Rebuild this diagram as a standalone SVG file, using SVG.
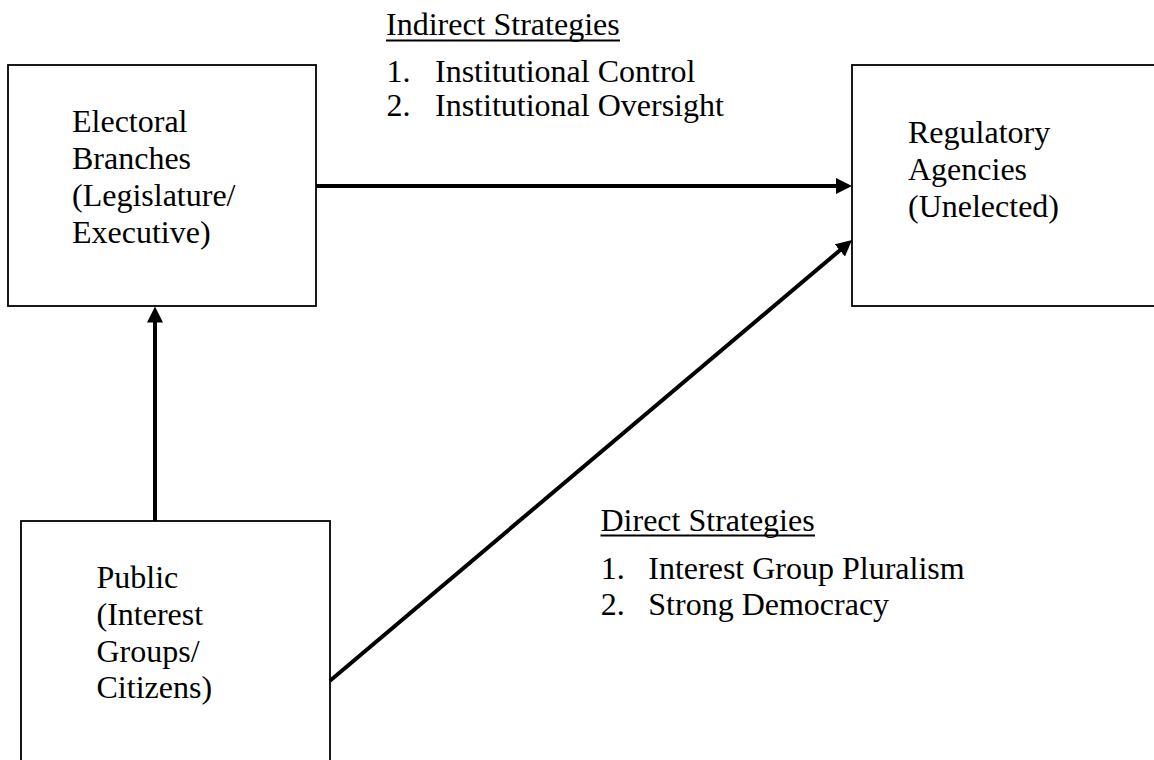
<svg xmlns="http://www.w3.org/2000/svg" width="1154" height="760" viewBox="0 0 1154 760">
<style>
.box{fill:#fff;stroke:#000;stroke-width:1.8}
.t{font-family:"Liberation Serif","Times New Roman",serif;font-size:32px;fill:#000}
.conn{stroke:#000;stroke-width:4;fill:none}
.ul{stroke:#000;stroke-width:1.8}
</style>
<defs>
<marker id="ah" viewBox="0 0 16 16" refX="6" refY="8" markerWidth="16" markerHeight="16" markerUnits="userSpaceOnUse" orient="auto">
<path d="M0,0 L16,8 L0,16 z" fill="#000"/>
</marker>
</defs>
<rect width="1154" height="760" fill="#fff"/>
<g id="electoral">
<rect class="box" x="8" y="65" width="308" height="241"/>
<text class="t" x="72" y="132">Electoral</text>
<text class="t" x="72" y="169">Branches</text>
<text class="t" x="72" y="206">(Legislature/</text>
<text class="t" x="72" y="243">Executive)</text>
</g>
<g id="regulatory">
<rect class="box" x="852" y="65" width="320" height="241"/>
<text class="t" x="908" y="143">Regulatory</text>
<text class="t" x="908" y="180">Agencies</text>
<text class="t" x="908" y="217">(Unelected)</text>
</g>
<g id="public">
<rect class="box" x="21" y="521" width="309" height="260"/>
<text class="t" x="96.5" y="588">Public</text>
<text class="t" x="96.5" y="625">(Interest</text>
<text class="t" x="96.5" y="661.5">Groups/</text>
<text class="t" x="96.5" y="698">Citizens)</text>
</g>
<g id="connectors">
<line class="conn" x1="316" y1="186" x2="842" y2="186" marker-end="url(#ah)"/>
<line class="conn" x1="330" y1="680.7" x2="844.4" y2="246.5" marker-end="url(#ah)"/>
<line class="conn" x1="155" y1="521" x2="155" y2="316.5" marker-end="url(#ah)"/>
</g>
<g id="indirect">
<text class="t" x="386" y="35">Indirect Strategies</text>
<line class="ul" x1="386" y1="40.5" x2="620" y2="40.5"/>
<text class="t" x="386.5" y="82">1.</text>
<text class="t" x="435" y="82">Institutional Control</text>
<text class="t" x="386.5" y="116">2.</text>
<text class="t" x="435" y="116">Institutional Oversight</text>
</g>
<g id="direct">
<text class="t" x="600.5" y="531">Direct Strategies</text>
<line class="ul" x1="600.5" y1="535.5" x2="815" y2="535.5"/>
<text class="t" x="600.7" y="579">1.</text>
<text class="t" x="648.3" y="579">Interest Group Pluralism</text>
<text class="t" x="600.7" y="615">2.</text>
<text class="t" x="648.3" y="615">Strong Democracy</text>
</g>
</svg>
